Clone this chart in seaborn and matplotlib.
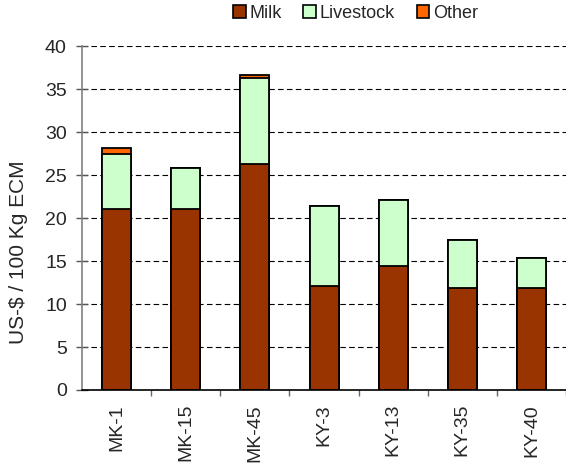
import numpy as np
import pandas as pd
import matplotlib
matplotlib.use("Agg")
import matplotlib.pyplot as plt
import seaborn as sns
from matplotlib.patches import Patch
from matplotlib.ticker import FixedLocator

farms = ["MK-1", "MK-15", "MK-45", "KY-3", "KY-13", "KY-35", "KY-40"]
milk = [21.0, 21.0, 26.3, 12.1, 14.4, 11.9, 11.9]
livestock = [6.4, 4.8, 10.0, 9.3, 7.7, 5.5, 3.4]
other = [0.7, 0.0, 0.4, 0.0, 0.0, 0.0, 0.0]

colors = {"Milk": "#993300", "Livestock": "#CCFFCC", "Other": "#FF6600"}

df = pd.DataFrame({"farm": farms, "Milk": milk, "Livestock": livestock, "Other": other})
df["cum_livestock"] = df["Milk"] + df["Livestock"]
df["cum_other"] = df["cum_livestock"] + df["Other"]

sns.set_theme(style="white")
plt.rcParams["font.family"] = ["Liberation Sans", "DejaVu Sans"]

fig = plt.figure(figsize=(5.66, 4.71), dpi=100)
ax = fig.add_axes([0.145, 0.172, 0.855, 0.730])

# stacked bars drawn as overlapping cumulative totals
for col, name in [("cum_other", "Other"), ("cum_livestock", "Livestock"), ("Milk", "Milk")]:
    sns.barplot(data=df, x="farm", y=col, color=colors[name], saturation=1,
                width=0.42, edgecolor="black", linewidth=1.3, ax=ax)

ax.set_xlim(-0.5, 6.5)
ax.set_ylim(0, 40)
ax.set_yticks(np.arange(0, 41, 5))
ax.yaxis.grid(True, color="black", linestyle=(0, (5, 3)), linewidth=0.8)
ax.set_axisbelow(True)

ax.set_xlabel("")
ax.set_ylabel("US-$ / 100 Kg ECM", fontsize=15)
ax.yaxis.set_label_coords(-0.112, 0.40)
ax.tick_params(axis="x", which="major", length=0, labelsize=14, rotation=90, pad=10)
ax.xaxis.set_minor_locator(FixedLocator(np.arange(0.5, 6.6, 1)))
ax.tick_params(axis="x", which="minor", length=4, width=1, color="#666666", bottom=True)
ax.tick_params(axis="y", direction="inout", length=8, width=1, color="#555555",
               labelsize=14, left=True, pad=7)

for s in ["top", "right"]:
    ax.spines[s].set_visible(False)
ax.spines["left"].set_color("#808080")
ax.spines["left"].set_linewidth(1.2)
ax.spines["bottom"].set_color("black")
ax.spines["bottom"].set_linewidth(1.2)

handles = [Patch(facecolor=colors[n], edgecolor="black", linewidth=1.2, label=n)
           for n in ["Milk", "Livestock", "Other"]]
fig.legend(handles=handles, loc="center", bbox_to_anchor=(0.628, 0.972), ncol=3,
           frameon=False, fontsize=13, handlelength=0.7, handleheight=0.7,
           handletextpad=0.2, columnspacing=1.2)

fig.savefig("out.png", dpi=100)
